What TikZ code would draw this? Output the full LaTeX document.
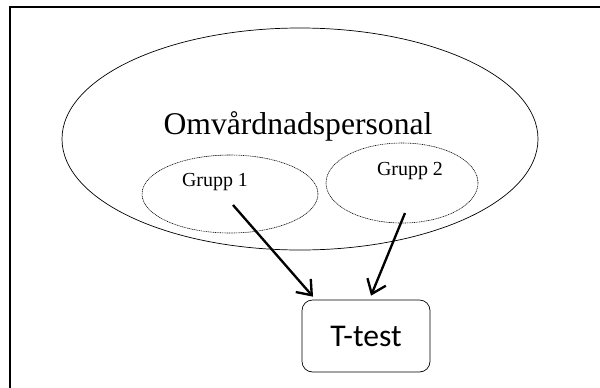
\documentclass[tikz,border=0pt]{standalone}
\usepackage{fontspec}
\setmainfont{Liberation Serif}
\newfontfamily\boxfont{Carlito}
\usetikzlibrary{shapes.geometric,arrows.meta,calc}

\begin{document}
\begin{tikzpicture}[x=0.03cm,y=-0.03cm,
  grp/.style={draw,ellipse,dash pattern=on 0.9pt off 0.6pt,line width=0.5pt,inner sep=0pt},
  pil/.style={-{Straight Barb[length=11pt,width=17pt]},line width=2pt}]
\useasboundingbox (0,0) rectangle (600,387);
\draw[line width=1.7pt] (10,400) -- (10,7) -- (605,7); % frame
% the staff
\node[draw,ellipse,line width=0.6pt,minimum width=476*0.03cm,minimum height=222*0.03cm] (staff) at (300,139) {};
\node[font=\fontsize{27}{30}\selectfont] (staffname) at (298,126) {Omvårdnadspersonal};
% the two groups
\node[grp,minimum width=176*0.03cm,minimum height=78*0.03cm] (grp1) at (230,194) {};
\node[grp,minimum width=152*0.03cm,minimum height=80*0.03cm] (grp2) at (402,183) {};
\node[font=\fontsize{17}{20}\selectfont] (grp1name) at (215,182) {Grupp 1};
\node[font=\fontsize{17}{20}\selectfont] (grp2name) at (410,171) {Grupp 2};
% the test
\node[draw,rounded corners=9pt,line width=0.6pt,minimum width=128*0.03cm,minimum height=72*0.03cm,font=\boxfont\fontsize{27}{30}\selectfont] (ttest) at (366,336) {T-test};
\coordinate (start1) at ($(grp1)+(3,11)$);
\coordinate (start2) at ($(grp2)+(3,30)$);
\draw[pil] (start1) -- ($(ttest.north)+(-53,-3)$);
\draw[pil] (start2) -- ($(ttest.north)+(5,-4)$);
\end{tikzpicture}
\end{document}
